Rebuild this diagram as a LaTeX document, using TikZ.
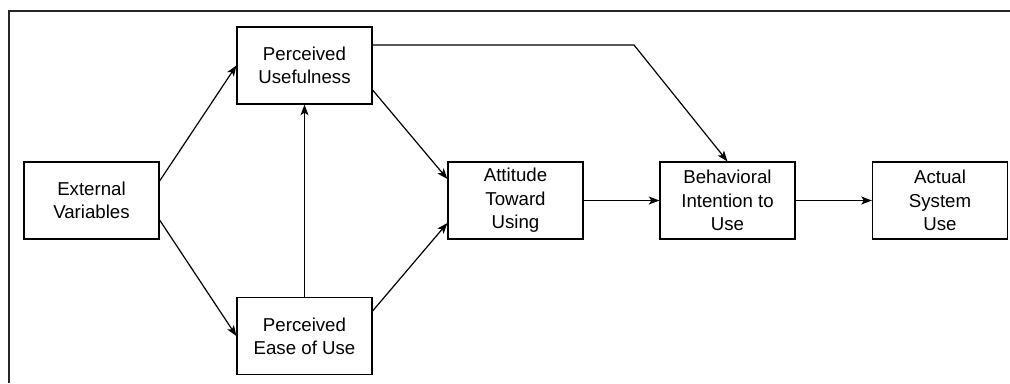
\documentclass[tikz,border=0pt]{standalone}
\usepackage{fontspec}
\setmainfont{Liberation Sans}
\usetikzlibrary{arrows.meta,calc}
\tikzset{
  box/.style={draw, line width=0.9pt, inner sep=0pt, minimum width=101.25pt, minimum height=57.75pt,
    align=center, font=\fontsize{14pt}{17.5pt}\selectfont},
  conn/.style={line width=0.9pt, -{Stealth[length=8pt,width=6pt,inset=2pt]}},
  frameline/.style={line width=1.1pt, draw=black!85}
}
\begin{document}
\begin{tikzpicture}[x=0.75pt,y=-0.75pt]
\useasboundingbox (0,0) rectangle (1010,383);
\draw[frameline] (9,383) -- (9,11) -- (1010,11);
\node[box] (EV)  at (91.5,200.5) {External\\Variables};
\node[box] (PU)  at (304.5,65.5) {Perceived\\Usefulness};
\node[box] (PEU) at (304.5,336) {Perceived\\Ease of Use};
\node[box] (ATU) at (515.5,200.5) {Attitude\\Toward\\Using};
\node[box] (BI)  at (727.5,200.5) {Behavioral\\Intention to\\Use};
\node[box] (ASU) at (940,200.5) {Actual\\System\\Use};
\coordinate (bend) at (634,45);
\draw[conn] ($(EV.east)+(0,-19.5)$) -- (PU.west);
\draw[conn] ($(EV.east)+(0,19.5)$) -- (PEU.west);
\draw[conn] ($(PU.east)+(0,24.5)$) -- ($(ATU.west)+(0,-21.5)$);
\draw[conn] ($(PEU.east)+(0,-25)$) -- ($(ATU.west)+(0,22.5)$);
\draw[conn] (PEU.north) -- (PU.south);
\draw[conn] (ATU.east) -- (BI.west);
\draw[conn] (BI.east) -- (ASU.west);
\draw[conn] ($(PU.east)+(0,-20.5)$) -- (bend) -- (BI.north);
\end{tikzpicture}
\end{document}
